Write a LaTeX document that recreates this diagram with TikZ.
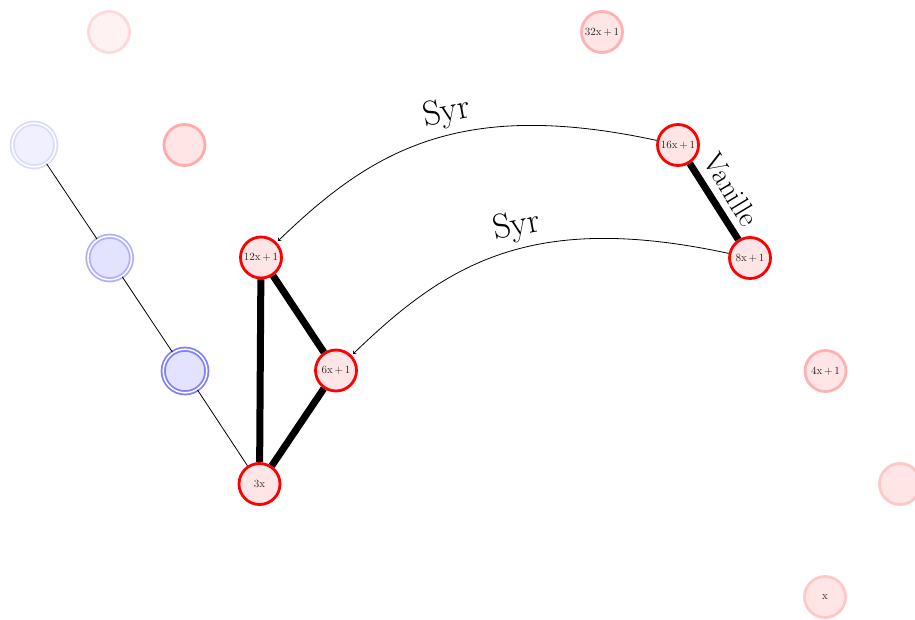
\documentclass[tikz,border=0pt]{standalone}
\usepackage{fontspec}
\setmainfont{Latin Modern Roman}
\newcommand\pl{\kern0.15em+\kern0.15em}
\tikzset{
  nd/.style={circle, minimum size=41pt, inner sep=0pt, line width=2.8pt,
    font=\fontsize{11}{12}\selectfont, fill=red!10, text=black!85},
  rednd/.style={nd, draw=red},
  ringnd/.style={circle, minimum size=43.6pt, inner sep=0pt, line width=1.8pt,
    double=white, double distance=1.5pt},
  thickedge/.style={line width=7pt},
  thinedge/.style={line width=0.8pt},
  lbl/.style={font=\fontsize{35}{40}\selectfont},
}
\begin{document}
\begin{tikzpicture}[x=1pt,y=-1pt]
\useasboundingbox (0,0) rectangle (915,620);
% faint nodes
\node[nd, draw=red!15, fill=red!5] (A) at (109,32) {};
\node[nd, draw=red!30] (B) at (602,32) {32x\pl1};
\node[nd, draw=red!33] (D) at (184.5,145) {};
\node[nd, draw=red!30] (K) at (825.5,371) {4x\pl1};
\node[nd, draw=red!22] (M) at (900,484) {};
\node[nd, draw=red!22] (N) at (825,597) {x};
% blue rings
\node[ringnd, draw=blue!14, fill=blue!6] (C) at (34,145) {};
\node[ringnd, draw=blue!31, fill=blue!11] (F) at (109.7,258) {};
\node[ringnd, draw=blue!50, fill=blue!11] (I) at (185,371) {};
% red nodes
\node[rednd] (E) at (678,145) {16x\pl1};
\node[rednd] (G) at (261,257.5) {12x\pl1};
\node[rednd] (H) at (750,258) {8x\pl1};
\node[rednd] (J) at (336,370.5) {6x\pl1};
\node[rednd] (L) at (259.5,484) {3x};
% thin edges
\draw[thinedge] (C) -- (F);
\draw[thinedge] (F) -- (I);
\draw[thinedge] (I) -- (L);
% thick edges
\draw[thickedge] (G) -- (L);
\draw[thickedge] (G) -- (J);
\draw[thickedge] (J) -- (L);
\draw[thickedge] (E) -- (H);
% arrows
\draw[->, thinedge, shorten >=2pt] (E) .. controls (460,98) and (372,150) .. (G);
\draw[->, thinedge, shorten >=2pt] (H) .. controls (532,211) and (447,263) .. (J);
% labels
\node[lbl, rotate=11] (s1) at (446.7,113.3) {Syr};
\node[lbl, rotate=11] (s2) at (516.7,226.7) {Syr};
\node[font=\fontsize{29}{32}\selectfont, rotate=-59, inner sep=1pt] (v) at (731,189.5) {Vanille};
\end{tikzpicture}
\end{document}
